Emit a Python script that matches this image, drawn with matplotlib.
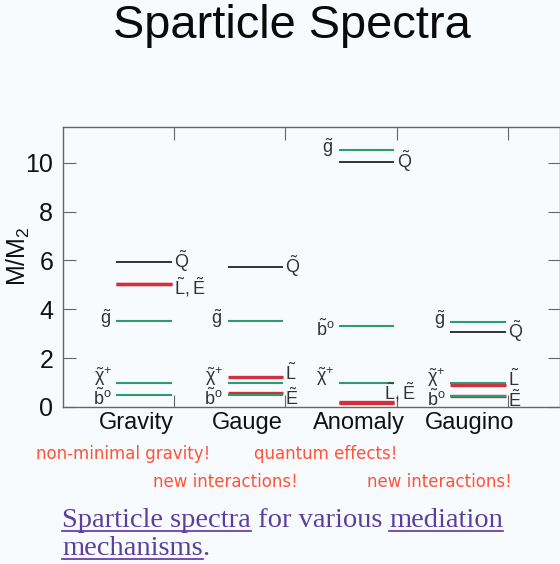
import matplotlib
matplotlib.use("Agg")
import matplotlib.pyplot as plt
from matplotlib.lines import Line2D

plt.rcParams['font.family'] = ['Liberation Sans', 'DejaVu Sans']
plt.rcParams['mathtext.fontset'] = 'custom'
plt.rcParams['mathtext.rm'] = 'Liberation Sans'
plt.rcParams['mathtext.it'] = 'Liberation Sans'
plt.rcParams['mathtext.default'] = 'regular'

# ---------------- data ----------------
categories = ['Gravity', 'Gauge', 'Anomaly', 'Gaugino']
m_squark   = [5.93, 5.73, 10.03, 3.06]   # Q~  (black)
m_gluino   = [3.50, 3.50, 10.52, 3.47]   # g~  (green)
m_chargino = [1.00, 1.00, 1.00, 0.97]    # chi~+ (green)
m_bino     = [0.50, 0.50, 3.32, 0.45]    # b~o (green)
m_slep_L   = [5.05, 1.22, 0.22, 0.90]    # L~  (red)
m_slep_E   = [5.05, 0.58, 0.15, 0.43]    # E~  (red)
y_ticks = [0, 2, 4, 6, 8, 10]
notes_top = ['non-minimal gravity!', 'quantum effects!']
notes_bottom = ['new interactions!', 'new interactions!']

GREEN = '#2f9a6a'
RED = '#d22f3f'
BLACK = '#111111'
BG = '#f8fbfd'

fig = plt.figure(figsize=(5.6, 5.64), dpi=100, facecolor=BG)
ax = fig.add_axes([63/560, 1-407/564, 497/560, 280/564], facecolor=BG)
ax.set_xlim(0, 4.47)
ax.set_ylim(0, 11.46)

lab = dict(fontsize=13, color='#333333', va='center')
for i, cat in enumerate(categories):
    x0, x1 = i + 0.48, i + 0.98
    ax.hlines(m_slep_L[i], x0, x1, color=RED, lw=2.4, zorder=2)
    ax.hlines(m_slep_E[i], x0, x1, color=RED, lw=2.4, zorder=2)
    ax.hlines(m_gluino[i], x0, x1, color=GREEN, lw=1.5, zorder=3)
    ax.hlines(m_chargino[i], x0, x1, color=GREEN, lw=1.5, zorder=3)
    ax.hlines(m_bino[i], x0, x1, color=GREEN, lw=1.5, zorder=3)
    ax.hlines(m_squark[i], x0, x1, color=BLACK, lw=1.2, zorder=3)

    gl, gr = 0.04, 0.02
    ax.text(x1 + gr, m_squark[i] + 0.02, r'$\tilde{Q}$', ha='left', **lab)
    ax.text(x0 - gl, m_gluino[i] + 0.1, r'$\tilde{g}$', ha='right', **lab)
    ax.text(x0 - gl, m_chargino[i] + 0.24, r'$\tilde{\chi}^{+}$', ha='right', **lab)
    ax.text(x0 - gl, m_bino[i] - 0.14, r'$\tilde{b}^{o}$', ha='right', **lab)
    if m_slep_L[i] == m_slep_E[i]:
        ax.text(x1 + gr, m_slep_L[i] - 0.14, r'$\tilde{L},\tilde{E}$', ha='left', **lab)
    elif i == 2:
        ax.text(x1 + 0.05, m_slep_L[i] + 0.38, r'$\tilde{L},\tilde{E}$', ha='center', **lab)
    else:
        yl = max(m_slep_L[i], m_chargino[i]) + 0.16
        ax.text(x1 + gr, yl, r'$\tilde{L}$', ha='left', **lab)
        ax.text(x1 + gr, min(m_slep_E[i], m_bino[i]) - 0.14, r'$\tilde{E}$', ha='left', **lab)

    ax.text(i + 0.66, -0.057, cat, transform=ax.get_xaxis_transform(),
            ha='center', va='center', fontsize=17, color='#111111')

ax.set_yticks(y_ticks)
ax.set_yticklabels([str(v) for v in y_ticks], fontsize=18, color='#111111')
ax.set_xticks([1, 2, 3, 4])
ax.set_xticklabels([])
ax.tick_params(axis='both', direction='in', length=9, width=0.8, color='#666666',
               top=True, right=True, pad=7)
for s in ax.spines.values():
    s.set_color('#666666')
    s.set_linewidth(1.0)
ax.set_ylabel(r'M/M$_2$', fontsize=18, color='#111111')
ax.yaxis.set_label_coords(-0.062, 0.54)

# title
fig.text(113/560, 1-38/564, 'Sparticle Spectra', fontsize=33.8, color='#0a0a0a',
         ha='left', va='baseline')

# red notes
note_kw = dict(fontsize=12, color='#ff5238', va='center', ha='left',
               family=['DejaVu Sans'])
fig.text(36/560, 1-454/564, notes_top[0], **note_kw)
fig.text(254/560, 1-454/564, notes_top[1], **note_kw)
fig.text(153/560, 1-482/564, notes_bottom[0], **note_kw)
fig.text(367/560, 1-482/564, notes_bottom[1], **note_kw)

# caption with underlines
fig.canvas.draw()
renderer = fig.canvas.get_renderer()
cap_color = '#5b3f9c'
cap_kw = dict(fontsize=20.5, color=cap_color, family=['Liberation Serif'],
              va='baseline', ha='left')
lines = [[('Sparticle spectra', True), (' for various ', False), ('mediation', True)],
         [('mechanisms', True), ('.', False)]]
baselines = [527, 555]
for segs, yb in zip(lines, baselines):
    x = 62
    for txt, ul in segs:
        t = fig.text(x/560, 1-yb/564, txt, **cap_kw)
        bb = t.get_window_extent(renderer)
        if ul:
            fig.add_artist(Line2D([x/560, bb.x1/560], [1-(yb+4)/564]*2,
                                  color='#6a3fb0', lw=1.3,
                                  transform=fig.transFigure))
        x = bb.x1

fig.savefig('out.png', dpi=100, facecolor=BG)
